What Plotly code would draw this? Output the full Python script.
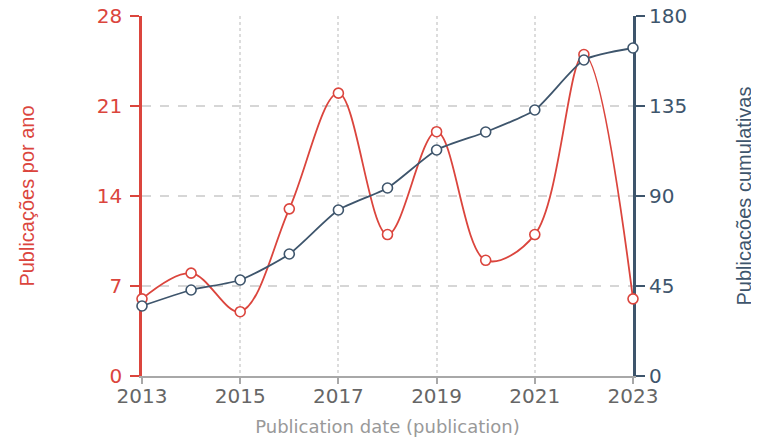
import plotly.graph_objects as go

years = [2013, 2014, 2015, 2016, 2017, 2018, 2019, 2020, 2021, 2022, 2023]
per_year = [6, 8, 5, 13, 22, 11, 19, 9, 11, 25, 6]
cumulative = [35, 43, 48, 61, 83, 94, 113, 122, 133, 158, 164]

left_ticks = [0, 7, 14, 21, 28]
right_ticks = [0, 45, 90, 135, 180]
x_ticks = [2013, 2015, 2017, 2019, 2021, 2023]

RED = "#db453d"
BLUE = "#3e556c"
TICKFONT = "DejaVu Sans"

fig = go.Figure()
fig.add_trace(go.Scatter(
    x=years, y=per_year, mode="lines+markers", name="Publicações por ano",
    line=dict(color=RED, width=1.8, shape="spline", smoothing=1.0),
    marker=dict(symbol="circle", size=10, color="white", line=dict(color=RED, width=1.6)),
    cliponaxis=False, yaxis="y"))
fig.add_trace(go.Scatter(
    x=years, y=cumulative, mode="lines+markers", name="Publicações cumulativas",
    line=dict(color=BLUE, width=1.8, shape="spline", smoothing=0.6),
    marker=dict(symbol="circle", size=10, color="white", line=dict(color=BLUE, width=1.6)),
    cliponaxis=False, yaxis="y2"))

fig.update_layout(
    width=759, height=437,
    margin=dict(l=134, r=134, t=8, b=69, autoexpand=False),
    paper_bgcolor="white", plot_bgcolor="white",
    showlegend=False,
    xaxis=dict(
        range=[2013, 2023], tickvals=x_ticks, ticktext=[str(v) for v in x_ticks],
        automargin=False, ticklabeloverflow="allow",
        showline=True, linecolor="#a8a8a8", linewidth=2,
        ticks="outside", ticklen=6, tickcolor="#a8a8a8", tickwidth=1.5,
        ticklabelstandoff=-5,
        showgrid=True, gridcolor="#dcdcdc", griddash="dot", gridwidth=2,
        zeroline=False,
        tickfont=dict(family=TICKFONT, size=20, color="#666666"),
        title=dict(text="Publication date (publication)", standoff=13,
                   font=dict(family=TICKFONT, size=18, color="#999999")),
    ),
    yaxis=dict(
        range=[0, 28], tickvals=left_ticks, automargin=False,
        ticklabeloverflow="allow",
        showline=True, linecolor=RED, linewidth=2.5, layer="below traces",
        ticks="outside", ticklen=9, tickcolor=RED, tickwidth=1.5,
        ticklabelstandoff=4,
        showgrid=True, gridcolor="#d6d6d6", griddash="dash", gridwidth=1.5,
        zeroline=False,
        tickfont=dict(family=TICKFONT, size=20, color=RED),
        title=dict(text="Publicações por ano", standoff=57,
                   font=dict(family="Liberation Sans", size=20, color=RED)),
    ),
    yaxis2=dict(
        range=[0, 180], tickvals=right_ticks, overlaying="y", side="right",
        automargin=False, ticklabeloverflow="allow",
        showline=True, linecolor=BLUE, linewidth=3, layer="below traces",
        ticks="outside", ticklen=9, tickcolor=BLUE, tickwidth=1.5,
        showgrid=False, zeroline=False,
        tickfont=dict(family=TICKFONT, size=20, color=BLUE),
        title=dict(text="Publicações cumulativas", standoff=51,
                   font=dict(family="Liberation Sans", size=20, color=BLUE)),
    ),
)

fig.write_html("out.html")
